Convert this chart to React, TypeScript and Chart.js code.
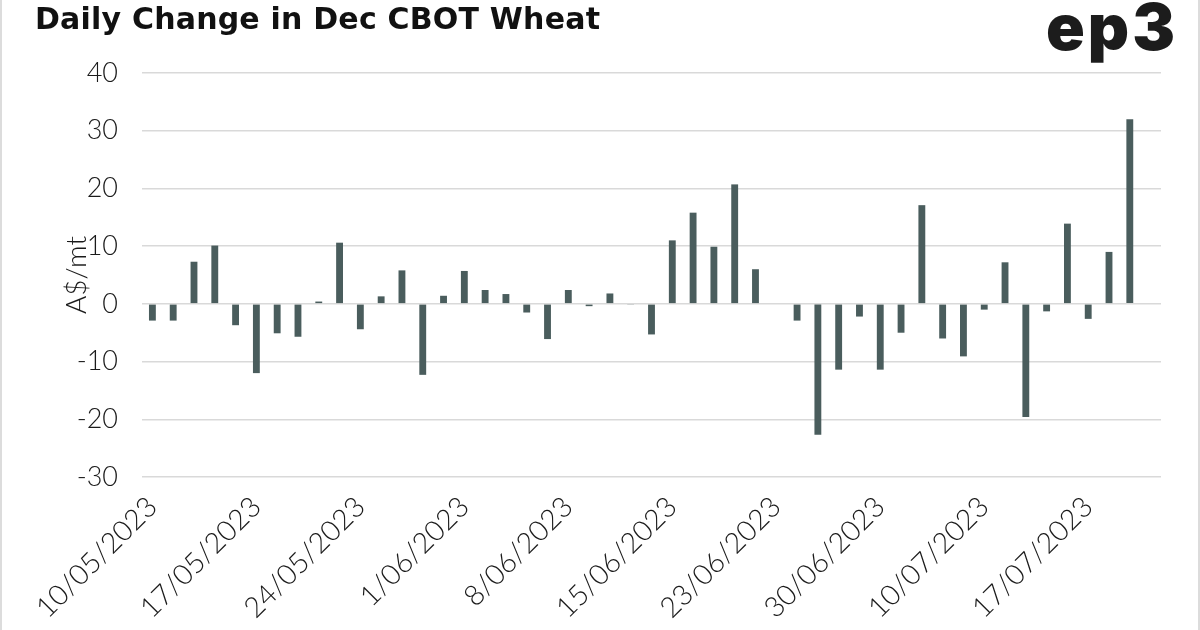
import React, { useEffect, useRef } from "react";
import { Chart, registerables } from "chart.js";

Chart.register(...registerables);

const categories: string[] = [
  "10/05/2023", "11/05/2023", "12/05/2023", "15/05/2023", "16/05/2023",
  "17/05/2023", "18/05/2023", "19/05/2023", "22/05/2023", "23/05/2023",
  "24/05/2023", "25/05/2023", "26/05/2023", "30/05/2023", "31/05/2023",
  "1/06/2023", "2/06/2023", "5/06/2023", "6/06/2023", "7/06/2023",
  "8/06/2023", "9/06/2023", "12/06/2023", "13/06/2023", "14/06/2023",
  "15/06/2023", "16/06/2023", "20/06/2023", "21/06/2023", "22/06/2023",
  "23/06/2023", "26/06/2023", "27/06/2023", "28/06/2023", "29/06/2023",
  "30/06/2023", "3/07/2023", "5/07/2023", "6/07/2023", "7/07/2023",
  "10/07/2023", "11/07/2023", "12/07/2023", "13/07/2023", "14/07/2023",
  "17/07/2023", "18/07/2023", "19/07/2023", "20/07/2023",
];

const dailyChange: (number | null)[] = [
  -2.9, -2.9, 7.3, 10.1, -3.7,
  -12.0, -5.1, -5.7, 0.4, 10.6,
  -4.4, 1.3, 5.8, -12.3, 1.4,
  5.7, 2.4, 1.7, -1.5, -6.1,
  2.4, -0.4, 1.8, -0.1, -5.3,
  11.0, 15.8, 9.9, 20.7, 6.0,
  0, -2.9, -22.7, -11.4, -2.2,
  -11.4, -5.0, 17.1, -6.0, -9.1,
  -1.0, 7.2, -19.6, -1.3, 13.9,
  -2.6, 9.0, 32.0, null,
];

const Y_MIN = -30;
const Y_MAX = 40;
const Y_STEP = 10;
const LABEL_EVERY = 5;

const TITLE = "Daily Change in Dec CBOT Wheat";
const Y_TITLE = "A$/mt";
const LOGO = "ep3";

export default function App() {
  const canvasRef = useRef<HTMLCanvasElement | null>(null);

  useEffect(() => {
    if (!canvasRef.current) return;
    const tickFont = { family: "Lato, 'Noto Sans', sans-serif", size: 27, weight: 300 as const };
    const chart = new Chart(canvasRef.current, {
      type: "bar",
      data: {
        labels: categories,
        datasets: [
          {
            data: dailyChange,
            backgroundColor: "#4a5d5d",
            borderWidth: 0,
            barPercentage: 0.33,
            categoryPercentage: 1,
          },
        ],
      },
      options: {
        animation: false,
        responsive: false,
        maintainAspectRatio: false,
        layout: { padding: { left: 60, right: 39, top: 73, bottom: 0 } },
        plugins: {
          legend: { display: false },
          tooltip: { enabled: false },
          title: { display: false },
        },
        scales: {
          x: {
            grid: { display: false, drawTicks: false },
            border: { display: false },
            ticks: {
              autoSkip: false,
              maxRotation: 45,
              minRotation: 45,
              padding: 13,
              color: "#1a1a1a",
              font: { ...tickFont, size: 28.5 },
              callback: (_v: any, i: number) => (i % LABEL_EVERY === 0 ? categories[i] : ""),
            },
            afterFit: (s: any) => {
              s.height = 630 - 477;
            },
          },
          y: {
            min: Y_MIN,
            max: Y_MAX,
            grid: { color: "#d9d9d9", lineWidth: 1.5, drawTicks: false },
            border: { display: false },
            ticks: {
              stepSize: Y_STEP,
              padding: 24,
              color: "#1a1a1a",
              font: tickFont,
            },
            title: {
              display: true,
              text: Y_TITLE,
              color: "#1a1a1a",
              font: { ...tickFont, size: 28 },
              padding: 0,
            },
            afterFit: (s: any) => {
              s.width = 142 - 60;
            },
          },
        },
      },
    });
    return () => chart.destroy();
  }, []);

  return (
    <div
      style={{
        position: "absolute",
        left: 0,
        top: 0,
        width: 1200,
        height: 630,
        background: "#ffffff",
        overflow: "hidden",
      }}
    >
      <canvas ref={canvasRef} width={1200} height={630} style={{ position: "absolute", left: 0, top: 0 }} />
      <div
        style={{
          position: "absolute",
          left: 35,
          top: 4,
          fontFamily: "'DejaVu Sans', sans-serif",
          fontWeight: 700,
          fontSize: 30,
          lineHeight: "30px",
          letterSpacing: 0.2,
          color: "#111",
          whiteSpace: "nowrap",
        }}
      >
        {TITLE}
      </div>
      <div
        style={{
          position: "absolute",
          left: 1046,
          top: -5,
          fontFamily: "Inter, 'Noto Sans', sans-serif",
          fontWeight: 900,
          fontSize: 64,
          lineHeight: "64px",
          letterSpacing: 3,
          color: "#1c1c1c",
          whiteSpace: "nowrap",
        }}
      >
        {LOGO}
      </div>
      <div style={{ position: "absolute", left: 0, top: 0, width: 2, height: 630, background: "#dcdcdc" }} />
      <div style={{ position: "absolute", right: 0, top: 0, width: 2, height: 630, background: "#dcdcdc" }} />
    </div>
  );
}
